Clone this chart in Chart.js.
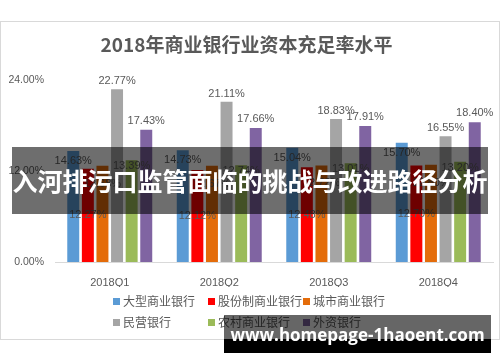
<!DOCTYPE html>
<html>
<head>
<meta charset="utf-8">
<script src="https://cdn.jsdelivr.net/npm/chart.js@4"></script>
<style>
  body { margin: 0; background: #fff; }
  #wrap { position: relative; width: 500px; height: 362px; overflow: hidden; }
  #frame { position: absolute; left: 0; top: 21px; width: 498px; height: 317px; border: 1px solid #d9d9d9; }
  canvas { position: absolute; left: 0; top: 0; }
  .leg { position: absolute; font: 12px "Noto Sans CJK SC", sans-serif; color: #595959; white-space: nowrap; line-height: 14px; }
  .leg i { display: inline-block; width: 7px; height: 7px; margin-right: 3px; vertical-align: 1px; }
  #banner { position: absolute; left: 12px; top: 147px; width: 476px; height: 67px; background: rgba(0,0,0,0.57);
    color: #fff; font: bold 25px "Noto Sans CJK SC", sans-serif; line-height: 67px; text-align: center; }
  #wm1 { position: absolute; left: 224px; top: 315px; width: 267px; height: 24px; background: rgba(0,0,0,0.6); }
  #wm2 { position: absolute; left: 224px; top: 339px; width: 267px; height: 14px; background: #000; }
  #wmt { position: absolute; left: 224px; top: 324px; width: 267px; text-align: center; color: #fff;
    font: bold 17px "Open Sans", sans-serif; line-height: 22px; }
</style>
</head>
<body>
<div id="wrap">
  <div id="frame"></div>
  <canvas id="myChart" width="500" height="362"></canvas>
  <div id="legend"></div>
  <div id="banner">入河排污口监管面临的挑战与改进路径分析</div>
  <div id="wm1"></div>
  <div id="wm2"></div>
  <div id="wmt">www.homepage-1haoent.com</div>
</div>
<script>
const quarters = ['2018Q1', '2018Q2', '2018Q3', '2018Q4'];
const seriesNames = ['大型商业银行', '股份制商业银行', '城市商业银行', '民营银行', '农村商业银行', '外资银行'];
const bigBanks = [14.63, 14.73, 15.04, 15.70];
const jointStock = [12.27, 12.12, 12.48, 12.70];
const cityBanks = [12.68, 12.67, 12.72, 12.80];
const privateBanks = [22.77, 21.11, 18.83, 16.55];
const ruralBanks = [13.39, 12.74, 13.01, 13.20];
const foreignBanks = [17.43, 17.66, 17.91, 18.40];
const yTicks = [0, 12, 24];

const colors = ['#5B9BD5', '#FF0000', '#E46C0A', '#A5A5A5', '#9BBB59', '#8064A2'];
// where each series puts its value label (Excel mixed them up)
const labelMode = ['top+10', 'center', 'top+18', 'top-8', 'top+6', 'top-9'];

const allSeries = [bigBanks, jointStock, cityBanks, privateBanks, ruralBanks, foreignBanks];

// legend, laid out as a grid like the original
const legend = document.getElementById('legend');
const colX = [113, 208, 303];
const rowY = [294, 315];
seriesNames.forEach((name, i) => {
    const d = document.createElement('div');
    d.className = 'leg';
    d.style.left = colX[i % 3] + 'px';
    d.style.top = rowY[Math.floor(i / 3)] + 'px';
    d.innerHTML = '<i style="background:' + colors[i] + '"></i>' + name;
    legend.appendChild(d);
});

const barLabels = {
    id: 'barLabels',
    afterDatasetsDraw(chart) {
        const ctx = chart.ctx;
        ctx.save();
        ctx.font = '11px "Liberation Sans", sans-serif';
        ctx.fillStyle = '#595959';
        ctx.textAlign = 'center';
        ctx.textBaseline = 'middle';
        chart.data.datasets.forEach((ds, i) => {
            chart.getDatasetMeta(i).data.forEach((bar, j) => {
                let y;
                const mode = labelMode[i];
                if (mode === 'center') y = (bar.y + bar.base) / 2;
                else y = bar.y + parseFloat(mode.slice(3));
                ctx.fillText(ds.data[j].toFixed(2) + '%', bar.x, y);
            });
        });
        ctx.restore();
    }
};

const ctx = document.getElementById('myChart').getContext('2d');
new Chart(ctx, {
    type: 'bar',
    data: {
        labels: quarters,
        datasets: allSeries.map((vals, i) => ({
            label: seriesNames[i],
            data: vals,
            backgroundColor: colors[i],
            categoryPercentage: 0.8,
            barPercentage: 0.82
        }))
    },
    options: {
        responsive: false,
        animation: false,
        layout: { padding: { left: 0, right: 7, top: 0, bottom: 75 } },
        plugins: {
            legend: { display: false },
            tooltip: { enabled: false },
            title: {
                display: true,
                text: '2018年商业银行业资本充足率水平',
                color: '#595959',
                font: { family: '"Noto Sans CJK SC", sans-serif', size: 19, weight: 'bold' },
                padding: { top: 33, bottom: 24 }
            }
        },
        scales: {
            x: {
                grid: { display: false },
                border: { color: '#d9d9d9' },
                ticks: { color: '#595959', font: { family: '"Liberation Sans", sans-serif', size: 11 }, padding: 6 },
                afterFit: s => { s.height = 25; }
            },
            y: {
                min: 0,
                max: 24,
                afterBuildTicks: s => { s.ticks = yTicks.map(v => ({ value: v })); },
                grid: { display: false },
                border: { display: false },
                ticks: {
                    color: '#595959',
                    font: { family: '"Liberation Sans", sans-serif', size: 10.5 },
                    padding: 3,
                    callback: v => v.toFixed(2) + '%'
                },
                afterFit: s => { s.width = 55; }
            }
        }
    },
    plugins: [barLabels]
});
</script>
</body>
</html>
